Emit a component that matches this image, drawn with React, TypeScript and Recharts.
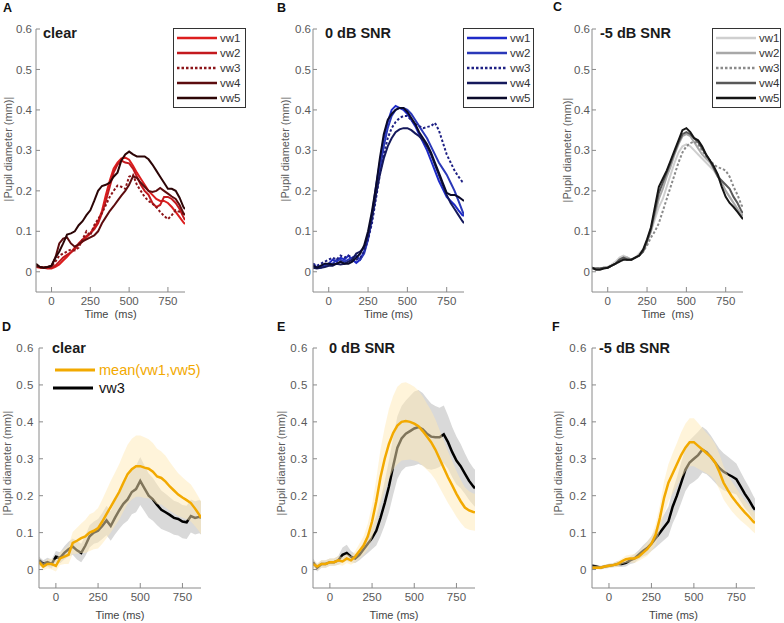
import React from 'react';
import { ComposedChart, Line, Area, XAxis, YAxis, Legend } from 'recharts';

// ---------- data ----------
const TIME = [-100, -75, -50, -25, 0, 25, 50, 75, 100, 125, 150, 175, 200, 225, 250, 275, 300, 325, 350, 375, 400, 425, 450, 475, 500, 525, 550, 575, 600, 625, 650, 675, 700, 725, 750, 775, 800, 825, 850, 860];

const SERIES_NAMES = ['vw1', 'vw2', 'vw3', 'vw4', 'vw5'];
const Y_TICKS = [0, 0.1, 0.2, 0.3, 0.4, 0.5, 0.6];
const X_TICKS = [0, 250, 500, 750];
const PANEL_LETTERS = ['A', 'B', 'C', 'D', 'E', 'F'];
const CONDITIONS = ['clear', '0 dB SNR', '-5 dB SNR'];
const BOTTOM_LEGEND = ['mean(vw1,vw5)', 'vw3'];

// Panel A: clear
const A_VW1 = [0.012, 0.01, 0.01, 0.008, 0.008, 0.012, 0.018, 0.028, 0.037, 0.048, 0.06, 0.066, 0.075, 0.085, 0.095, 0.11, 0.125, 0.15, 0.19, 0.225, 0.255, 0.27, 0.28, 0.282, 0.277, 0.262, 0.245, 0.23, 0.215, 0.2, 0.19, 0.18, 0.175, 0.175, 0.17, 0.16, 0.148, 0.135, 0.122, 0.118];
const A_VW2 = [0.012, 0.012, 0.01, 0.01, 0.01, 0.015, 0.025, 0.035, 0.042, 0.048, 0.055, 0.07, 0.08, 0.088, 0.095, 0.105, 0.12, 0.145, 0.175, 0.21, 0.245, 0.265, 0.275, 0.27, 0.268, 0.255, 0.235, 0.215, 0.2, 0.19, 0.17, 0.16, 0.165, 0.185, 0.185, 0.18, 0.17, 0.155, 0.135, 0.128];
const A_VW3 = [0.015, 0.01, 0.012, 0.01, 0.012, 0.025, 0.04, 0.045, 0.05, 0.055, 0.053, 0.06, 0.08, 0.1, 0.09, 0.115, 0.13, 0.145, 0.165, 0.185, 0.2, 0.213, 0.21, 0.205, 0.235, 0.24, 0.215, 0.2, 0.185, 0.175, 0.168, 0.16, 0.148, 0.138, 0.13, 0.14, 0.152, 0.148, 0.143, 0.14];
const A_VW4 = [0.015, 0.012, 0.01, 0.012, 0.015, 0.035, 0.07, 0.082, 0.085, 0.07, 0.062, 0.068, 0.075, 0.08, 0.085, 0.09, 0.1, 0.12, 0.135, 0.15, 0.162, 0.175, 0.188, 0.2, 0.215, 0.236, 0.232, 0.22, 0.21, 0.2, 0.197, 0.2, 0.207, 0.2, 0.193, 0.186, 0.18, 0.165, 0.145, 0.14];
const A_VW5 = [0.02, 0.012, 0.01, 0.012, 0.015, 0.035, 0.05, 0.07, 0.092, 0.095, 0.1, 0.115, 0.125, 0.14, 0.152, 0.175, 0.2, 0.212, 0.215, 0.22, 0.235, 0.245, 0.275, 0.29, 0.297, 0.29, 0.285, 0.285, 0.285, 0.278, 0.265, 0.25, 0.235, 0.22, 0.205, 0.205, 0.2, 0.183, 0.16, 0.155];

// Panel B: 0 dB SNR
const B_VW1 = [0.02, 0.01, 0.012, 0.018, 0.02, 0.03, 0.025, 0.035, 0.03, 0.04, 0.03, 0.022, 0.03, 0.05, 0.085, 0.14, 0.21, 0.27, 0.33, 0.37, 0.4, 0.41, 0.405, 0.4, 0.39, 0.375, 0.36, 0.34, 0.32, 0.3, 0.275, 0.25, 0.225, 0.205, 0.185, 0.175, 0.165, 0.152, 0.14, 0.138];
const B_VW2 = [0.015, 0.01, 0.01, 0.015, 0.02, 0.02, 0.03, 0.03, 0.025, 0.03, 0.035, 0.04, 0.03, 0.045, 0.08, 0.13, 0.19, 0.25, 0.31, 0.355, 0.385, 0.4, 0.405, 0.405, 0.4, 0.39, 0.375, 0.36, 0.345, 0.33, 0.31, 0.29, 0.27, 0.255, 0.24, 0.22, 0.2, 0.175, 0.15, 0.14];
const B_VW3 = [0.02, 0.015, 0.02, 0.025, 0.03, 0.035, 0.03, 0.04, 0.035, 0.04, 0.035, 0.03, 0.035, 0.05, 0.08, 0.12, 0.18, 0.24, 0.29, 0.33, 0.355, 0.37, 0.38, 0.385, 0.385, 0.375, 0.365, 0.36, 0.355, 0.358, 0.36, 0.368, 0.35, 0.32, 0.29, 0.27, 0.25, 0.235, 0.222, 0.22];
const B_VW4 = [0.01, 0.008, 0.01, 0.012, 0.015, 0.015, 0.02, 0.018, 0.02, 0.025, 0.03, 0.045, 0.05, 0.06, 0.09, 0.135, 0.19, 0.24, 0.28, 0.31, 0.33, 0.345, 0.352, 0.355, 0.355, 0.35, 0.342, 0.335, 0.325, 0.31, 0.29, 0.265, 0.24, 0.215, 0.19, 0.17, 0.155, 0.14, 0.125, 0.12];
const B_VW5 = [0.015, 0.01, 0.015, 0.02, 0.02, 0.018, 0.02, 0.025, 0.02, 0.02, 0.025, 0.035, 0.045, 0.065, 0.1, 0.15, 0.21, 0.28, 0.34, 0.375, 0.39, 0.4, 0.405, 0.405, 0.395, 0.38, 0.365, 0.345, 0.33, 0.315, 0.295, 0.27, 0.245, 0.22, 0.195, 0.19, 0.19, 0.185, 0.178, 0.175];

// Panel C: -5 dB SNR
const C_VW1 = [0.01, 0.008, 0.008, 0.01, 0.012, 0.018, 0.025, 0.035, 0.04, 0.035, 0.03, 0.035, 0.045, 0.055, 0.075, 0.1, 0.13, 0.16, 0.18, 0.21, 0.24, 0.27, 0.295, 0.31, 0.315, 0.31, 0.3, 0.29, 0.28, 0.27, 0.26, 0.25, 0.235, 0.215, 0.2, 0.185, 0.17, 0.155, 0.14, 0.135];
const C_VW2 = [0.01, 0.008, 0.008, 0.01, 0.01, 0.015, 0.02, 0.03, 0.035, 0.035, 0.03, 0.035, 0.04, 0.05, 0.075, 0.1, 0.14, 0.18, 0.205, 0.235, 0.26, 0.29, 0.315, 0.335, 0.34, 0.335, 0.32, 0.305, 0.29, 0.28, 0.27, 0.255, 0.24, 0.22, 0.2, 0.185, 0.17, 0.155, 0.14, 0.14];
const C_VW3 = [0.01, 0.008, 0.008, 0.01, 0.01, 0.015, 0.02, 0.025, 0.03, 0.03, 0.03, 0.035, 0.04, 0.05, 0.065, 0.085, 0.1, 0.12, 0.15, 0.18, 0.21, 0.24, 0.27, 0.295, 0.31, 0.318, 0.322, 0.315, 0.3, 0.285, 0.275, 0.265, 0.258, 0.255, 0.25, 0.235, 0.21, 0.19, 0.165, 0.16];
const C_VW4 = [0.008, 0.008, 0.008, 0.01, 0.01, 0.015, 0.02, 0.03, 0.035, 0.03, 0.03, 0.035, 0.04, 0.05, 0.075, 0.105, 0.15, 0.195, 0.22, 0.245, 0.27, 0.295, 0.32, 0.34, 0.345, 0.34, 0.33, 0.32, 0.305, 0.29, 0.275, 0.255, 0.235, 0.225, 0.215, 0.205, 0.185, 0.17, 0.15, 0.145];
const C_VW5 = [0.01, 0.005, 0.005, 0.008, 0.01, 0.015, 0.02, 0.025, 0.03, 0.03, 0.03, 0.035, 0.04, 0.055, 0.08, 0.11, 0.16, 0.21, 0.23, 0.25, 0.275, 0.3, 0.325, 0.35, 0.355, 0.345, 0.33, 0.325, 0.31, 0.29, 0.275, 0.26, 0.24, 0.21, 0.185, 0.17, 0.16, 0.148, 0.135, 0.13];

// Panels D-F: mean(vw1,vw5) and vw3 with their spread (half-widths)
const D_MEAN = [0.02, 0.008, 0.015, 0.015, 0.01, 0.03, 0.035, 0.04, 0.072, 0.078, 0.085, 0.09, 0.1, 0.105, 0.112, 0.13, 0.15, 0.17, 0.19, 0.21, 0.235, 0.258, 0.272, 0.28, 0.28, 0.276, 0.273, 0.265, 0.252, 0.248, 0.238, 0.225, 0.214, 0.203, 0.195, 0.188, 0.18, 0.165, 0.148, 0.14];
const D_MEAN_SE = [0.01, 0.01, 0.012, 0.015, 0.015, 0.018, 0.02, 0.025, 0.03, 0.035, 0.04, 0.045, 0.05, 0.05, 0.055, 0.06, 0.065, 0.07, 0.072, 0.075, 0.078, 0.08, 0.082, 0.083, 0.083, 0.082, 0.08, 0.078, 0.075, 0.072, 0.07, 0.066, 0.062, 0.058, 0.055, 0.052, 0.05, 0.048, 0.045, 0.045];
const D_VW3 = [0.025, 0.015, 0.02, 0.015, 0.035, 0.032, 0.045, 0.055, 0.062, 0.052, 0.045, 0.065, 0.09, 0.1, 0.105, 0.118, 0.133, 0.118, 0.14, 0.16, 0.178, 0.19, 0.21, 0.218, 0.24, 0.22, 0.2, 0.19, 0.175, 0.162, 0.155, 0.148, 0.14, 0.137, 0.13, 0.128, 0.145, 0.14, 0.143, 0.14];
const D_VW3_SE = [0.01, 0.01, 0.012, 0.012, 0.015, 0.015, 0.018, 0.02, 0.022, 0.025, 0.025, 0.028, 0.03, 0.03, 0.032, 0.035, 0.04, 0.04, 0.045, 0.05, 0.055, 0.058, 0.06, 0.063, 0.065, 0.062, 0.06, 0.058, 0.055, 0.052, 0.05, 0.048, 0.046, 0.045, 0.045, 0.045, 0.045, 0.045, 0.045, 0.045];

const E_MEAN = [0.015, 0.008, 0.015, 0.015, 0.02, 0.02, 0.025, 0.022, 0.03, 0.025, 0.035, 0.05, 0.065, 0.09, 0.13, 0.185, 0.25, 0.3, 0.34, 0.37, 0.39, 0.4, 0.402, 0.4, 0.395, 0.388, 0.375, 0.36, 0.345, 0.325, 0.3, 0.275, 0.25, 0.228, 0.205, 0.185, 0.168, 0.16, 0.156, 0.155];
const E_MEAN_SE = [0.01, 0.01, 0.01, 0.01, 0.01, 0.01, 0.012, 0.012, 0.012, 0.012, 0.015, 0.02, 0.025, 0.035, 0.045, 0.06, 0.075, 0.085, 0.095, 0.1, 0.105, 0.105, 0.105, 0.102, 0.1, 0.097, 0.094, 0.09, 0.086, 0.082, 0.078, 0.074, 0.07, 0.066, 0.062, 0.058, 0.055, 0.052, 0.05, 0.05];
const E_VW3 = [0.02, 0.005, 0.015, 0.015, 0.02, 0.02, 0.025, 0.04, 0.045, 0.035, 0.03, 0.04, 0.055, 0.07, 0.085, 0.105, 0.14, 0.18, 0.225, 0.28, 0.33, 0.355, 0.368, 0.375, 0.382, 0.386, 0.38, 0.368, 0.36, 0.358, 0.358, 0.366, 0.345, 0.318, 0.295, 0.28, 0.26, 0.24, 0.225, 0.22];
const E_VW3_SE = [0.01, 0.01, 0.01, 0.01, 0.01, 0.01, 0.012, 0.02, 0.022, 0.015, 0.012, 0.015, 0.02, 0.025, 0.03, 0.04, 0.05, 0.06, 0.07, 0.078, 0.085, 0.088, 0.09, 0.095, 0.1, 0.1, 0.098, 0.095, 0.09, 0.085, 0.08, 0.078, 0.072, 0.068, 0.065, 0.06, 0.055, 0.052, 0.05, 0.05];

const F_MEAN = [0.005, 0.005, 0.005, 0.008, 0.01, 0.012, 0.015, 0.022, 0.028, 0.03, 0.03, 0.035, 0.045, 0.055, 0.07, 0.095, 0.14, 0.195, 0.235, 0.26, 0.285, 0.31, 0.33, 0.345, 0.345, 0.335, 0.325, 0.315, 0.305, 0.29, 0.265, 0.235, 0.215, 0.197, 0.182, 0.168, 0.155, 0.143, 0.13, 0.126];
const F_MEAN_SE = [0.005, 0.005, 0.005, 0.005, 0.006, 0.006, 0.008, 0.008, 0.01, 0.01, 0.012, 0.012, 0.015, 0.018, 0.02, 0.028, 0.035, 0.045, 0.05, 0.055, 0.058, 0.062, 0.065, 0.065, 0.065, 0.062, 0.058, 0.055, 0.052, 0.05, 0.048, 0.045, 0.042, 0.04, 0.038, 0.035, 0.032, 0.03, 0.028, 0.028];
const F_VW3 = [0.01, 0.008, 0.005, 0.008, 0.01, 0.012, 0.015, 0.015, 0.018, 0.025, 0.03, 0.04, 0.05, 0.058, 0.07, 0.085, 0.1, 0.115, 0.13, 0.17, 0.2, 0.235, 0.27, 0.29, 0.3, 0.31, 0.325, 0.318, 0.305, 0.29, 0.275, 0.265, 0.258, 0.252, 0.245, 0.225, 0.205, 0.188, 0.168, 0.162];
const F_VW3_SE = [0.005, 0.005, 0.005, 0.005, 0.006, 0.006, 0.008, 0.008, 0.01, 0.01, 0.012, 0.012, 0.015, 0.018, 0.02, 0.025, 0.03, 0.035, 0.04, 0.045, 0.05, 0.055, 0.058, 0.06, 0.062, 0.063, 0.062, 0.06, 0.058, 0.055, 0.052, 0.05, 0.048, 0.045, 0.042, 0.04, 0.038, 0.035, 0.032, 0.03];

const RED_COLORS = ['#dc1e1e', '#c3191e', '#8c1418', '#5c0c0e', '#2c0506'];
const BLUE_COLORS = ['#1e2ac8', '#2a38b8', '#1e2084', '#15195c', '#0a0a2a'];
const GRAY_COLORS = ['#cfcfcf', '#a8a8a8', '#8a8a8a', '#585858', '#151515'];
const ORANGE = '#f2a900';

// ---------- helpers ----------
const FONT = '"Liberation Sans", Arial, Helvetica, sans-serif';
const AXIS_GRAY = '#8a8a8a';
const TICK_STYLE = { fill: '#595959', fontSize: 11.5, fontFamily: FONT };
const fmtY = (v: number) => (v === 0 ? '0' : v.toFixed(1));

function TopLegend({ colors, width }: { colors: string[]; width: number }) {
  return (
    <svg width={width} height={80} style={{ display: 'block' }}>
      <rect x={0.5} y={0.5} width={width - 1} height={79} fill="#fff" stroke="#333" strokeWidth={1} />
      {SERIES_NAMES.map((n, k) => (
        <g key={n}>
          <line x1={4} x2={44} y1={10 + 15 * k} y2={10 + 15 * k} stroke={colors[k]} strokeWidth={2.5}
            strokeDasharray={k === 2 ? '2.5 2' : undefined} />
          <text x={47} y={10 + 15 * k} dominantBaseline="central" fontSize={11.5} fill="#333" fontFamily={FONT}>{n}</text>
        </g>
      ))}
    </svg>
  );
}

function BottomLegend() {
  return (
    <svg width={170} height={40} style={{ display: 'block' }}>
      <line x1={5} x2={45} y1={10} y2={10} stroke={ORANGE} strokeWidth={3} />
      <text x={49} y={10} dominantBaseline="central" fontSize={14.5} fill={ORANGE} fontFamily={FONT}>{BOTTOM_LEGEND[0]}</text>
      <line x1={3} x2={43} y1={28} y2={28} stroke="#000" strokeWidth={3} />
      <text x={49} y={28} dominantBaseline="central" fontSize={14.5} fill="#111" fontFamily={FONT}>{BOTTOM_LEGEND[1]}</text>
    </svg>
  );
}

type TopProps = {
  left: number; width: number; yw: number; mr: number; tm: number;
  values: number[][]; colors: string[]; legendLeft: number; legendWidth: number; xLabel: string;
};

function TopPanel({ left, width, yw, mr, tm, values, colors, legendLeft, legendWidth, xLabel }: TopProps) {
  const data = TIME.map((t, i) => {
    const row: Record<string, number> = { t };
    SERIES_NAMES.forEach((n, k) => { row[n] = values[k][i]; });
    return row;
  });
  return (
    <div style={{ position: 'absolute', left, top: 0 }}>
      <ComposedChart width={width} height={326} data={data} margin={{ top: 29, right: mr, bottom: 0, left: 0 }}>
        <XAxis type="number" dataKey="t" domain={[-100, 860]} ticks={X_TICKS} height={34} tickSize={-5} tickMargin={10}
          stroke={AXIS_GRAY} tick={TICK_STYLE} allowDataOverflow
          label={{ value: xLabel, position: 'insideBottom', offset: 8, fill: '#444', fontSize: 11, fontFamily: FONT }} />
        <YAxis type="number" domain={[-0.05, 0.6]} ticks={Y_TICKS} width={yw} tickSize={-4} tickMargin={tm}
          tickFormatter={fmtY} stroke={AXIS_GRAY} tick={TICK_STYLE} allowDataOverflow />
        {SERIES_NAMES.map((n, k) => (
          <Line key={n} dataKey={n} type="linear" stroke={colors[k]} strokeWidth={2}
            strokeDasharray={k === 2 ? '2.5 2' : undefined} dot={false} activeDot={false} isAnimationActive={false} />
        ))}
        <Legend layout="vertical" align="center" verticalAlign="middle"
          wrapperStyle={{ left: legendLeft, top: 28, width: legendWidth, height: 80 }}
          content={() => <TopLegend colors={colors} width={legendWidth} />} />
      </ComposedChart>
    </div>
  );
}

type BottomProps = {
  left: number; width: number; yw: number; mr: number;
  mean: number[]; meanSe: number[]; vw3: number[]; vw3Se: number[]; showLegend?: boolean;
};

function BottomPanel({ left, width, yw, mr, mean, meanSe, vw3, vw3Se, showLegend }: BottomProps) {
  const data = TIME.map((t, i) => ({
    t,
    mean: mean[i],
    vw3: vw3[i],
    meanBand: [mean[i] - meanSe[i], mean[i] + meanSe[i]],
    vw3Band: [vw3[i] - vw3Se[i], vw3[i] + vw3Se[i]],
  }));
  return (
    <div style={{ position: 'absolute', left, top: 330 }}>
      <ComposedChart width={width} height={293} data={data} margin={{ top: 18, right: mr, bottom: 0, left: 0 }}>
        <XAxis type="number" dataKey="t" domain={[-100, 860]} ticks={X_TICKS} height={35} tickSize={-5} tickMargin={10}
          stroke={AXIS_GRAY} tick={TICK_STYLE} allowDataOverflow
          label={{ value: 'Time (ms)', position: 'insideBottom', offset: 4, fill: '#444', fontSize: 11, fontFamily: FONT }} />
        <YAxis type="number" domain={[-0.05, 0.6]} ticks={Y_TICKS} width={yw} tickSize={-4} tickMargin={9}
          tickFormatter={fmtY} stroke={AXIS_GRAY} tick={{ ...TICK_STYLE, letterSpacing: 0.6 }} allowDataOverflow />
        <Area dataKey="vw3Band" type="linear" stroke="none" fill="#d9d9d9" fillOpacity={1}
          isAnimationActive={false} legendType="none" activeDot={false} />
        <Area dataKey="vw3" type="linear" stroke="#000" strokeWidth={2.5} fill="none" fillOpacity={0}
          isAnimationActive={false} legendType="none" activeDot={false} />
        <Area dataKey="meanBand" type="linear" stroke="none" fill="#ffe9b5" fillOpacity={0.5}
          isAnimationActive={false} legendType="none" activeDot={false} />
        <Line dataKey="mean" type="linear" stroke={ORANGE} strokeWidth={2.5} dot={false} activeDot={false}
          isAnimationActive={false} />
        {showLegend ? (
          <Legend layout="vertical" align="center" verticalAlign="middle"
            wrapperStyle={{ left: 50, top: 30, width: 170, height: 40 }}
            content={() => <BottomLegend />} />
        ) : null}
      </ComposedChart>
    </div>
  );
}

function Annotations() {
  const letterPos = [[3, 11.7], [277, 11.7], [553, 11], [2, 331], [277, 330.5], [552, 330.5]];
  const titlePos = [[43, 37.7], [325, 37.7], [600, 37.7], [52, 353], [329, 353.3], [599, 353.3]];
  const ylabelPos = [[7.5, 149], [285, 149], [567, 150], [6.5, 463], [281, 463], [557.5, 463]];
  return (
    <svg width={784} height={623} style={{ position: 'absolute', left: 0, top: 0, pointerEvents: 'none' }}>
      {PANEL_LETTERS.map((l, i) => (
        <text key={l} x={letterPos[i][0]} y={letterPos[i][1]} fontSize={12.5} fontWeight="bold" fill="#111" fontFamily={FONT}>{l}</text>
      ))}
      {titlePos.map((p, i) => (
        <text key={'t' + i} x={p[0]} y={p[1]} fontSize={14.5} fontWeight="bold" fill="#1a1a1a" fontFamily={FONT}>{CONDITIONS[i % 3]}</text>
      ))}
      {ylabelPos.map((p, i) => (
        <text key={'y' + i} x={p[0]} y={p[1]} transform={`rotate(-90 ${p[0]} ${p[1]})`} textAnchor="middle"
          dominantBaseline="central" fontSize={11} fill="#595959" fontFamily={FONT}>|Pupil diameter (mm)|</text>
      ))}
    </svg>
  );
}

export default function App() {
  return (
    <div style={{ position: 'absolute', left: 0, top: 0, width: 784, height: 623, background: '#fff', fontFamily: FONT, overflow: 'hidden' }}>
      <TopPanel left={0} width={260} yw={36} mr={75} tm={8} values={[A_VW1, A_VW2, A_VW3, A_VW4, A_VW5]}
        colors={RED_COLORS} legendLeft={173} legendWidth={73} xLabel={'Time\u00a0\u00a0(ms)'} />
      <TopPanel left={260} width={280} yw={53} mr={76} tm={6} values={[B_VW1, B_VW2, B_VW3, B_VW4, B_VW5]}
        colors={BLUE_COLORS} legendLeft={203} legendWidth={71} xLabel="Time (ms)" />
      <TopPanel left={520} width={264} yw={72} mr={41} tm={6} values={[C_VW1, C_VW2, C_VW3, C_VW4, C_VW5]}
        colors={GRAY_COLORS} legendLeft={192} legendWidth={69} xLabel={'Time\u00a0\u00a0(ms)'} />
      <BottomPanel left={0} width={260} yw={39} mr={59} mean={D_MEAN} meanSe={D_MEAN_SE} vw3={D_VW3} vw3Se={D_VW3_SE} showLegend />
      <BottomPanel left={260} width={264} yw={53} mr={49} mean={E_MEAN} meanSe={E_MEAN_SE} vw3={E_VW3} vw3Se={E_VW3_SE} />
      <BottomPanel left={520} width={264} yw={72} mr={29} mean={F_MEAN} meanSe={F_MEAN_SE} vw3={F_VW3} vw3Se={F_VW3_SE} />
      <Annotations />
    </div>
  );
}
